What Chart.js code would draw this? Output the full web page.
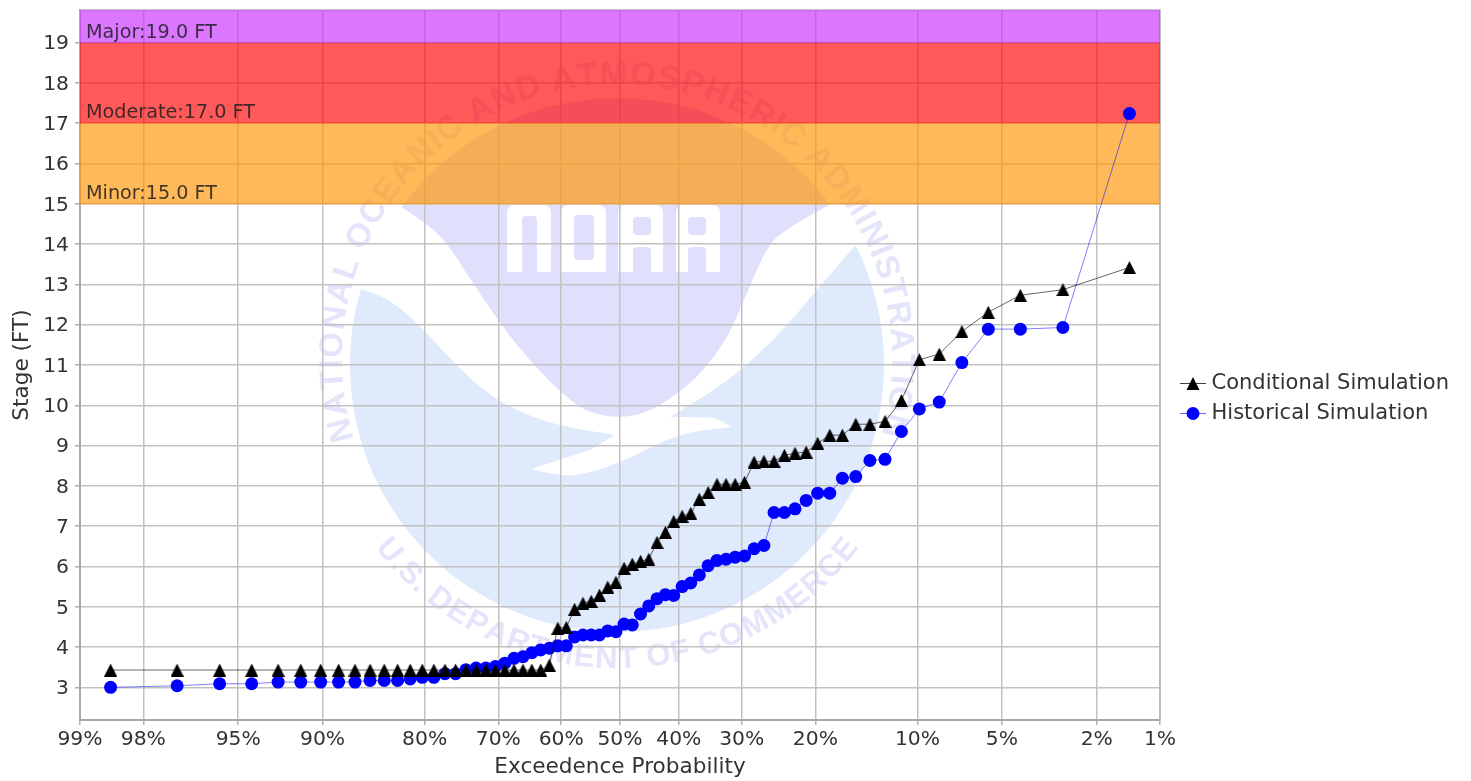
<!DOCTYPE html>
<html><head><meta charset="utf-8">
<style>html,body{margin:0;padding:0;background:#fff}canvas{display:block;filter:blur(0.55px)}</style>
<script src="https://cdn.jsdelivr.net/npm/chart.js@4"></script>
</head><body><canvas id="c" width="1471" height="781"></canvas>
<script>
const exceedance = [98.59,97.18,95.77,94.37,92.96,91.55,90.14,88.73,87.32,85.92,84.51,83.10,81.69,80.28,78.87,77.46,76.06,74.65,73.24,71.83,70.42,69.01,67.61,66.20,64.79,63.38,61.97,60.56,59.15,57.75,56.34,54.93,53.52,52.11,50.70,49.30,47.89,46.48,45.07,43.66,42.25,40.85,39.44,38.03,36.62,35.21,33.80,32.39,30.99,29.58,28.17,26.76,25.35,23.94,22.54,21.13,19.72,18.31,16.90,15.49,14.08,12.68,11.27,9.86,8.45,7.04,5.63,4.23,2.82,1.41];
const conditional = [3.43,3.43,3.43,3.43,3.43,3.43,3.43,3.43,3.43,3.43,3.43,3.43,3.43,3.43,3.43,3.43,3.43,3.43,3.43,3.43,3.43,3.43,3.43,3.43,3.43,3.43,3.55,4.47,4.49,4.94,5.09,5.14,5.29,5.49,5.61,5.96,6.06,6.13,6.18,6.60,6.85,7.12,7.25,7.32,7.67,7.84,8.04,8.04,8.04,8.09,8.59,8.61,8.61,8.76,8.81,8.84,9.06,9.26,9.26,9.53,9.53,9.60,10.12,11.13,11.27,11.83,12.31,12.73,12.87,13.42];
const historical = [3.00,3.04,3.09,3.09,3.13,3.13,3.13,3.13,3.13,3.17,3.17,3.17,3.21,3.25,3.25,3.34,3.34,3.44,3.48,3.48,3.52,3.60,3.72,3.76,3.86,3.93,3.97,4.03,4.03,4.25,4.30,4.30,4.30,4.40,4.38,4.57,4.55,4.82,5.02,5.20,5.30,5.28,5.50,5.59,5.79,6.02,6.15,6.18,6.23,6.26,6.44,6.52,7.34,7.34,7.43,7.64,7.82,7.82,8.19,8.23,8.63,8.66,9.35,9.91,10.08,11.06,11.89,11.89,11.93,17.24];
const seriesNames = ["Conditional Simulation","Historical Simulation"];
const probTicks = [99,98,95,90,80,70,60,50,40,30,20,10,5,2,1];
const stageTicks = [3,4,5,6,7,8,9,10,11,12,13,14,15,16,17,18,19];
const floodNames = ["Minor","Moderate","Major"];
const floodStages = [15,17,19];
const floodTop = [17,19,19.81];
const floodColors = ["rgba(255,147,0,0.65)","rgba(255,0,0,0.65)","rgba(200,45,255,0.65)"];
const floodEdge = ["rgba(255,150,20,0.8)","rgba(255,110,40,0.8)","rgba(200,60,200,0.7)"];
const sealTop = "NATIONAL OCEANIC AND ATMOSPHERIC ADMINISTRATION";
const sealBottom = "U.S. DEPARTMENT OF COMMERCE";
const FONT = '"DejaVu Sans"';

function probit(p){
  const a=[-39.69683028665376,220.9460984245205,-275.9285104469687,138.357751867269,-30.66479806614716,2.506628277459239];
  const b=[-54.47609879822406,161.5858368580409,-155.6989798598866,66.80131188771972,-13.28068155288572];
  const c=[-0.007784894002430293,-0.3223964580411365,-2.400758277161838,-2.549732539343734,4.374664141464968,2.938163982698783];
  const d=[0.007784695709041462,0.3224671290700398,2.445134137142996,3.754408661907416];
  const pl=0.02425;
  let q,r;
  if(p<pl){q=Math.sqrt(-2*Math.log(p));return (((((c[0]*q+c[1])*q+c[2])*q+c[3])*q+c[4])*q+c[5])/((((d[0]*q+d[1])*q+d[2])*q+d[3])*q+1);}
  if(p>1-pl){q=Math.sqrt(-2*Math.log(1-p));return -(((((c[0]*q+c[1])*q+c[2])*q+c[3])*q+c[4])*q+c[5])/((((d[0]*q+d[1])*q+d[2])*q+d[3])*q+1);}
  q=p-0.5;r=q*q;
  return (((((a[0]*r+a[1])*r+a[2])*r+a[3])*r+a[4])*r+a[5])*q/(((((b[0]*r+b[1])*r+b[2])*r+b[3])*r+b[4])*r+1);
}
const toZ = pct => probit(1-pct/100);

function triangleStyle(size, line){
  const cv=document.createElement('canvas');
  const w=line?26:size, h=size;
  cv.width=w;cv.height=h;
  const g=cv.getContext('2d');
  if(line){g.strokeStyle='rgba(0,0,0,0.75)';g.lineWidth=1;g.beginPath();g.moveTo(0,h/2);g.lineTo(w,h/2);g.stroke();}
  const m=w/2;
  g.fillStyle='#000';g.beginPath();g.moveTo(m,0);g.lineTo(m+size/2,h);g.lineTo(m-size/2,h);g.closePath();g.fill();
  return cv;
}
function circleStyle(size){
  const cv=document.createElement('canvas');
  cv.width=26;cv.height=size;
  const g=cv.getContext('2d');
  g.strokeStyle='rgba(0,0,255,0.6)';g.lineWidth=1;g.beginPath();g.moveTo(0,size/2);g.lineTo(26,size/2);g.stroke();
  g.fillStyle='#0000ff';g.beginPath();g.arc(13,size/2,size/2,0,Math.PI*2);g.fill();
  return cv;
}

function smooth(g,pts,first){
  if(first)g.moveTo(pts[0][0],pts[0][1]);else g.lineTo(pts[0][0],pts[0][1]);
  for(let i=1;i<pts.length-1;i++){
    const mx=(pts[i][0]+pts[i+1][0])/2,my=(pts[i][1]+pts[i+1][1])/2;
    g.quadraticCurveTo(pts[i][0],pts[i][1],mx,my);
  }
  const l=pts[pts.length-1];g.lineTo(l[0],l[1]);
}
function arcText(g,text,cx,cy,r,a0,a1,upper){
  const chars=[...text];
  const widths=chars.map(ch=>g.measureText(ch).width);
  const tot=widths.reduce((s,v)=>s+v,0);
  let acc=0;
  chars.forEach((ch,i)=>{
    const t=(acc+widths[i]/2)/tot;
    const a=a0+(a1-a0)*t;
    g.save();
    g.translate(cx+r*Math.cos(a),cy+r*Math.sin(a));
    g.rotate(upper?a+Math.PI/2:a-Math.PI/2);
    g.fillText(ch,0,0);
    g.restore();
    acc+=widths[i];
  });
}
const watermark={id:'watermark',beforeDraw(chart){
  const g=chart.ctx,cx=617,cy=365,r=267;
  g.save();
  const lav='#e0e0fc',blu='#dfeafc';
  g.fillStyle=lav;g.beginPath();
  const aL=Math.atan2(207-cy,401-cx),aR=Math.atan2(205-cy,829-cx);
  g.arc(cx,cy,r,aL,aR);
  smooth(g,[[829,205],[783,230],[765,250],[740,310],[726,340],[704,370],[679,393],[647,413],[619,418],[590,413],[569,400],[533,365],[501,325],[469,277],[447,243],[426,223],[401,207]],false);
  g.closePath();g.fill();
  g.fillStyle=blu;g.beginPath();
  const tR=Math.atan2(247-cy,854-cx),tL=Math.atan2(289-cy,360-cx);
  g.arc(cx,cy,r,tR,tL);
  smooth(g,[[360,289],[376,293],[401,308],[426,332],[454,363],[483,390],[511,408],[554,425],[615,435]],false);
  g.lineTo(590,450);g.lineTo(531,469);
  smooth(g,[[531,469],[561,477],[590,473],[626,460],[679,433],[731,427]],false);
  smooth(g,[[731,427],[719,418],[697,417],[670,417]],false);
  smooth(g,[[670,417],[704,397],[744,368],[786,327],[819,287],[854,247]],false);
  g.closePath();g.fill();
  g.fillStyle='#e4e4fb';g.textAlign='center';g.textBaseline='alphabetic';
  g.font='bold 33px "Liberation Sans"';
  arcText(g,sealTop,cx,cy-6,275,Math.PI*0.905,Math.PI*2.09,true);
  g.font='bold 31px "Liberation Sans"';
  arcText(g,sealBottom,cx,cy,303,Math.PI*0.795,Math.PI*0.205,false);
  g.fillStyle='#fff';
  const blk=(x,y,w,h)=>{g.beginPath();g.roundRect(x,y,w,h,[7,7,0,0]);g.fill();};
  const cut=(x,y,w,h)=>{g.fillStyle=lav;g.beginPath();g.roundRect(x,y,w,h,4);g.fill();g.fillStyle='#fff';};
  blk(507,205,44,67);cut(522,216,15,60);
  blk(561,205,45,67);cut(574,215,20,45);
  blk(618,205,45,67);cut(633,217,18,18);cut(633,247,18,30);
  blk(676,205,44,67);cut(688,217,18,18);cut(688,247,18,30);
  g.restore();
}};
const bands={id:'bands',beforeDatasetsDraw(chart){
  const g=chart.ctx,a=chart.chartArea,y=chart.scales.y;
  g.save();
  g.strokeStyle='#b8b8b8';g.lineWidth=1.5;
  g.beginPath();g.moveTo(a.left,a.top);g.lineTo(a.right,a.top);g.lineTo(a.right,a.bottom);g.stroke();
  floodStages.forEach((s,i)=>{
    const y0=y.getPixelForValue(floodTop[i]),y1=y.getPixelForValue(s);
    g.fillStyle=floodColors[i];g.fillRect(a.left,y0,a.right-a.left,y1-y0);
    g.strokeStyle=floodEdge[i];g.lineWidth=1;g.beginPath();g.moveTo(a.left,y1);g.lineTo(a.right,y1);g.stroke();
  });
  g.fillStyle='rgba(30,30,30,0.85)';g.font='19.2px '+FONT;g.textAlign='left';g.textBaseline='alphabetic';
  floodStages.forEach((s,i)=>{
    g.fillText(floodNames[i]+':'+s.toFixed(1)+' FT',a.left+6,y.getPixelForValue(s)-5);
  });
  g.restore();
}};
const placeLegend={id:'placeLegend',
  beforeLayout(chart){
    const l=chart.legend;
    if(!l._fitWrapped){const f=l.fit;l.fit=function(){f.call(this);this.width=311;};l._fitWrapped=true;}
  },
  afterLayout(chart){const l=chart.legend;l.left=1176;l.right=1471;l.top=364;l.bottom=700;}
};

const triPt=triangleStyle(13,false),triLeg=triangleStyle(13,true),cirLeg=circleStyle(13);
const xy=vals=>vals.map((v,i)=>({x:toZ(exceedance[i]),y:v}));
new Chart(document.getElementById('c'),{
  type:'line',
  plugins:[watermark,bands,placeLegend],
  data:{datasets:[
    {label:seriesNames[0],data:xy(conditional),order:0,borderColor:'rgba(0,0,0,0.6)',borderWidth:1,pointStyle:triPt,pointRadius:6.5,tension:0},
    {label:seriesNames[1],data:xy(historical),order:1,borderColor:'rgba(0,0,255,0.5)',backgroundColor:'#0000ff',borderWidth:1,pointStyle:'circle',pointRadius:6.5,pointBorderWidth:0,pointBackgroundColor:'#0000ff',tension:0}
  ]},
  options:{
    responsive:false,animation:false,
    layout:{padding:{top:10,left:0,right:0,bottom:0}},
    plugins:{
      tooltip:{enabled:false},
      legend:{position:'right',align:'start',labels:{
        usePointStyle:true,pointStyleWidth:16,padding:9,color:'#333',font:{family:FONT,size:21},
        generateLabels(chart){
          const items=Chart.defaults.plugins.legend.labels.generateLabels(chart);
          items[0].pointStyle=triLeg;items[1].pointStyle=cirLeg;
          return items;
        }
      }}
    },
    scales:{
      x:{type:'linear',min:toZ(99),max:toZ(1),
        afterBuildTicks(s){s.ticks=probTicks.map(p=>({value:toZ(p)}));},
        afterTickToLabelConversion(s){s.ticks.forEach((t,i)=>{t.label=probTicks[i]+'%';});},
        afterFit(s){s.height=61;s.paddingLeft=0;s.paddingRight=0;},
        grid:{color:'#c2c2c2',lineWidth:1.5,tickLength:5,tickColor:'#b0b0b0'},
        border:{color:'#a8a8a8',width:2},
        ticks:{autoSkip:false,maxRotation:0,padding:3,color:'#333',font:{family:FONT,size:20.3}},
        title:{display:true,text:'Exceedence Probability',color:'#333',font:{family:FONT,size:21.6},padding:{top:6,bottom:1}}
      },
      y:{type:'linear',min:2.19,max:19.81,
        afterBuildTicks(s){s.ticks=stageTicks.map(v=>({value:v}));},
        afterFit(s){s.width=80;s.paddingTop=0;s.paddingBottom=0;},
        grid:{color:'#c2c2c2',lineWidth:1.5,tickLength:5,tickColor:'#b0b0b0'},
        border:{color:'#a8a8a8',width:2},
        ticks:{autoSkip:false,padding:6,labelOffset:1.5,color:'#333',font:{family:FONT,size:20.3}},
        title:{display:true,text:'Stage (FT)',color:'#333',font:{family:FONT,size:21.6},padding:{top:9,bottom:4}}
      }
    }
  }
});
</script></body></html>
